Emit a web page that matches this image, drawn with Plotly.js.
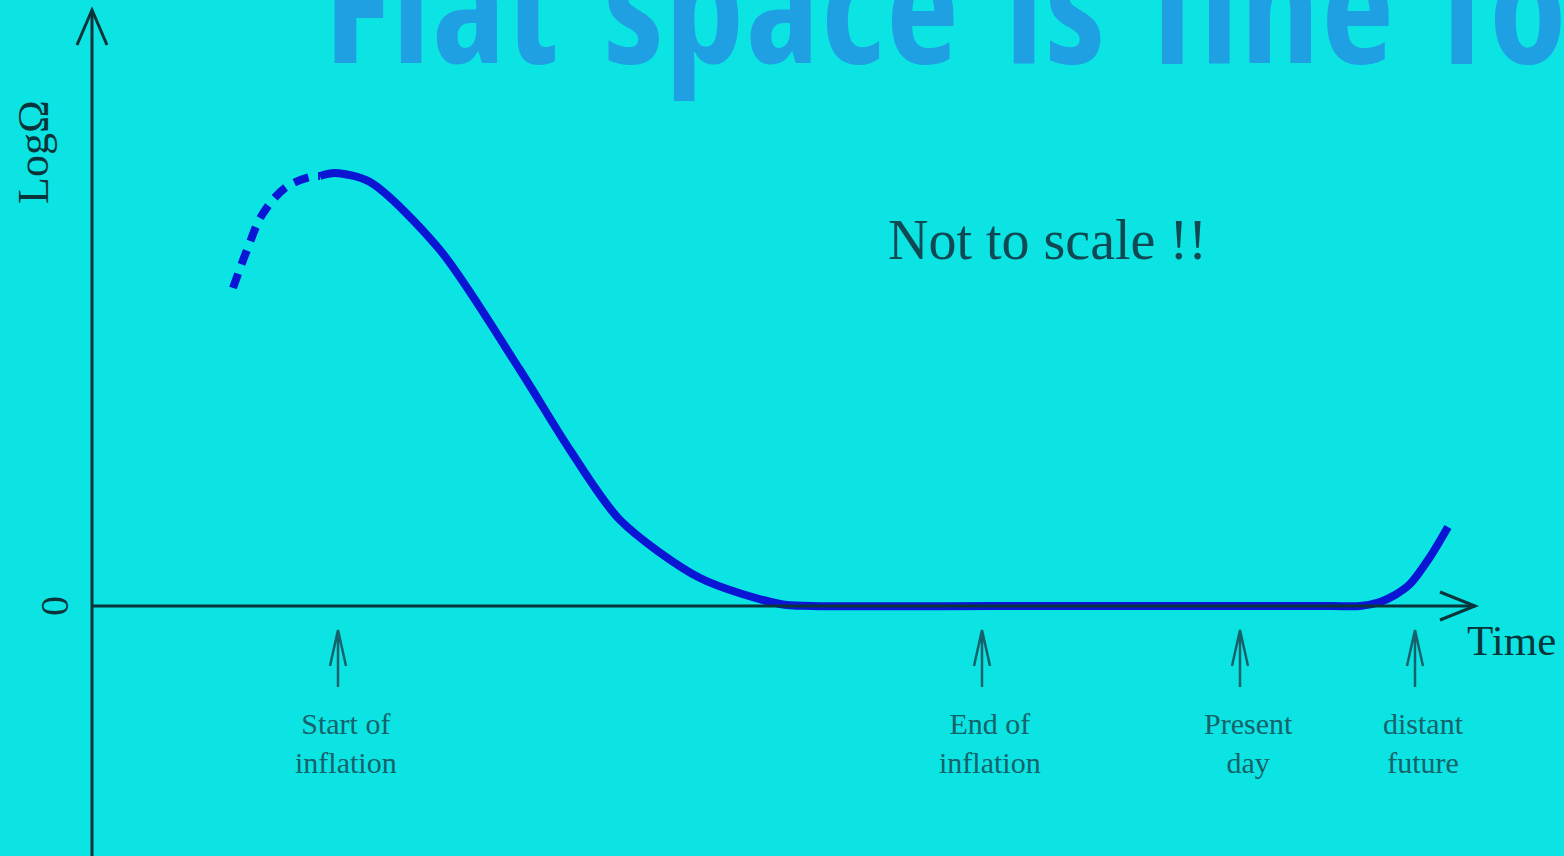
<!DOCTYPE html>
<html>
<head>
<meta charset="utf-8">
<script src="https://cdn.plot.ly/plotly-3.0.1.min.js"></script>
<style>
  html, body { margin: 0; padding: 0; background: #0ce4e4; }
  #chart { width: 1564px; height: 856px; }
  /* the headline is the first annotation: narrow, widely spaced lettering */
  #chart g.annotation[data-index="0"] text { font-stretch: 75%; letter-spacing: 2px; word-spacing: 14px; }
</style>
</head>
<body>
<div id="chart"></div>
<script>
// Schematic evolution of log(Omega) with time (arbitrary units)
const earlyTime = [1.41, 1.55, 1.70, 1.93, 2.18, 2.28];
const earlyLogOmega = [3.18, 3.56, 3.91, 4.18, 4.29, 4.30];

const mainTime = [2.28, 2.43, 2.78, 3.48, 4.28, 4.78, 5.28, 6.08, 6.88, 7.20, 9.0, 11.0, 12.4, 12.68, 12.88, 13.03, 13.18, 13.38, 13.56];
const mainLogOmega = [4.30, 4.33, 4.24, 3.56, 2.36, 1.56, 0.86, 0.28, 0.02, 0.0, 0.0, 0.0, 0.0, 0.0, 0.04, 0.11, 0.22, 0.49, 0.79];

// Epochs marked along the time axis
const epochTimes = [2.46, 8.90, 11.48, 13.23];
const epochLabels = ["Start of<br>inflation", "End of<br>inflation", "Present<br>day", "distant<br>future"];

const headline = "Flat space is fine for";
const note = "Not to scale !!";
const xLabel = "Time";
const yLabel = "LogΩ";
const zeroLabel = "0";

const curveColor = "#0a16d4";
const axisColor = "#08343a";
const labelColor = "#15626a";
const serif = "Liberation Serif, Times New Roman, serif";

const traces = [
  {
    x: earlyTime, y: earlyLogOmega, mode: "lines", type: "scatter",
    line: { color: curveColor, width: 8, dash: "15px,10px", shape: "spline", smoothing: 1 },
    hoverinfo: "skip"
  },
  {
    x: mainTime, y: mainLogOmega, mode: "lines", type: "scatter",
    line: { color: curveColor, width: 8, shape: "spline", smoothing: 0.8 },
    hoverinfo: "skip"
  }
];

const shapes = [
  // axes
  { type: "line", x0: 0, x1: 0, y0: -2.6, y1: 5.96, line: { color: axisColor, width: 3 } },
  { type: "line", x0: 0, x1: 13.83, y0: 0, y1: 0, line: { color: axisColor, width: 3 } },
  // open arrowheads on the axes
  { type: "path", path: "M -0.15,5.61 L 0,5.96 L 0.15,5.61", line: { color: axisColor, width: 3 } },
  { type: "path", path: "M 13.48,0.14 L 13.83,0 L 13.48,-0.14", line: { color: axisColor, width: 3 } }
];

// upward arrows under the time axis
epochTimes.forEach(t => {
  shapes.push({
    type: "path",
    path: `M ${t},-0.81 L ${t},-0.24 M ${t - 0.08},-0.60 L ${t},-0.24 L ${t + 0.08},-0.60`,
    line: { color: labelColor, width: 2.5 }
  });
});

// headline text is measured before the narrow styling applies, hence the xshift
const annotations = [
  { x: 330 / 1564, y: 1.0, xref: "paper", yref: "paper", text: headline, showarrow: false,
    xanchor: "left", yanchor: "middle", xshift: -145, yshift: -1,
    font: { family: "Open Sans, sans-serif", size: 158, color: "#1ea0e2", weight: 700 } }
];

epochLabels.forEach((lab, i) => annotations.push({
  x: epochTimes[i], y: -1.37, xref: "x", yref: "y", text: lab, showarrow: false,
  xanchor: "center", yanchor: "middle", xshift: 8,
  font: { family: serif, size: 30, color: labelColor }
}));

annotations.push(
  { x: 9.55, y: 3.66, xref: "x", yref: "y", text: note, showarrow: false,
    font: { family: serif, size: 56, color: "#0f4a54" } },
  { x: 13.73, y: -0.34, xref: "x", yref: "y", text: xLabel, showarrow: false,
    xanchor: "left", font: { family: serif, size: 43, color: axisColor } },
  { x: -0.59, y: 4.54, xref: "x", yref: "y", text: yLabel, showarrow: false, textangle: -90,
    font: { family: serif, size: 44, color: axisColor } },
  { x: -0.38, y: 0, xref: "x", yref: "y", text: zeroLabel, showarrow: false, textangle: -90,
    font: { family: serif, size: 40, color: axisColor } }
);

const layout = {
  width: 1564, height: 856,
  margin: { l: 0, r: 0, t: 0, b: 0 },
  paper_bgcolor: "#0ce4e4", plot_bgcolor: "#0ce4e4",
  showlegend: false,
  xaxis: { range: [-0.92, 14.72], visible: false, fixedrange: true },
  yaxis: { range: [-2.5, 6.06], visible: false, fixedrange: true },
  shapes: shapes,
  annotations: annotations
};

Plotly.newPlot("chart", traces, layout, { displayModeBar: false, staticPlot: true });
</script>
</body>
</html>
